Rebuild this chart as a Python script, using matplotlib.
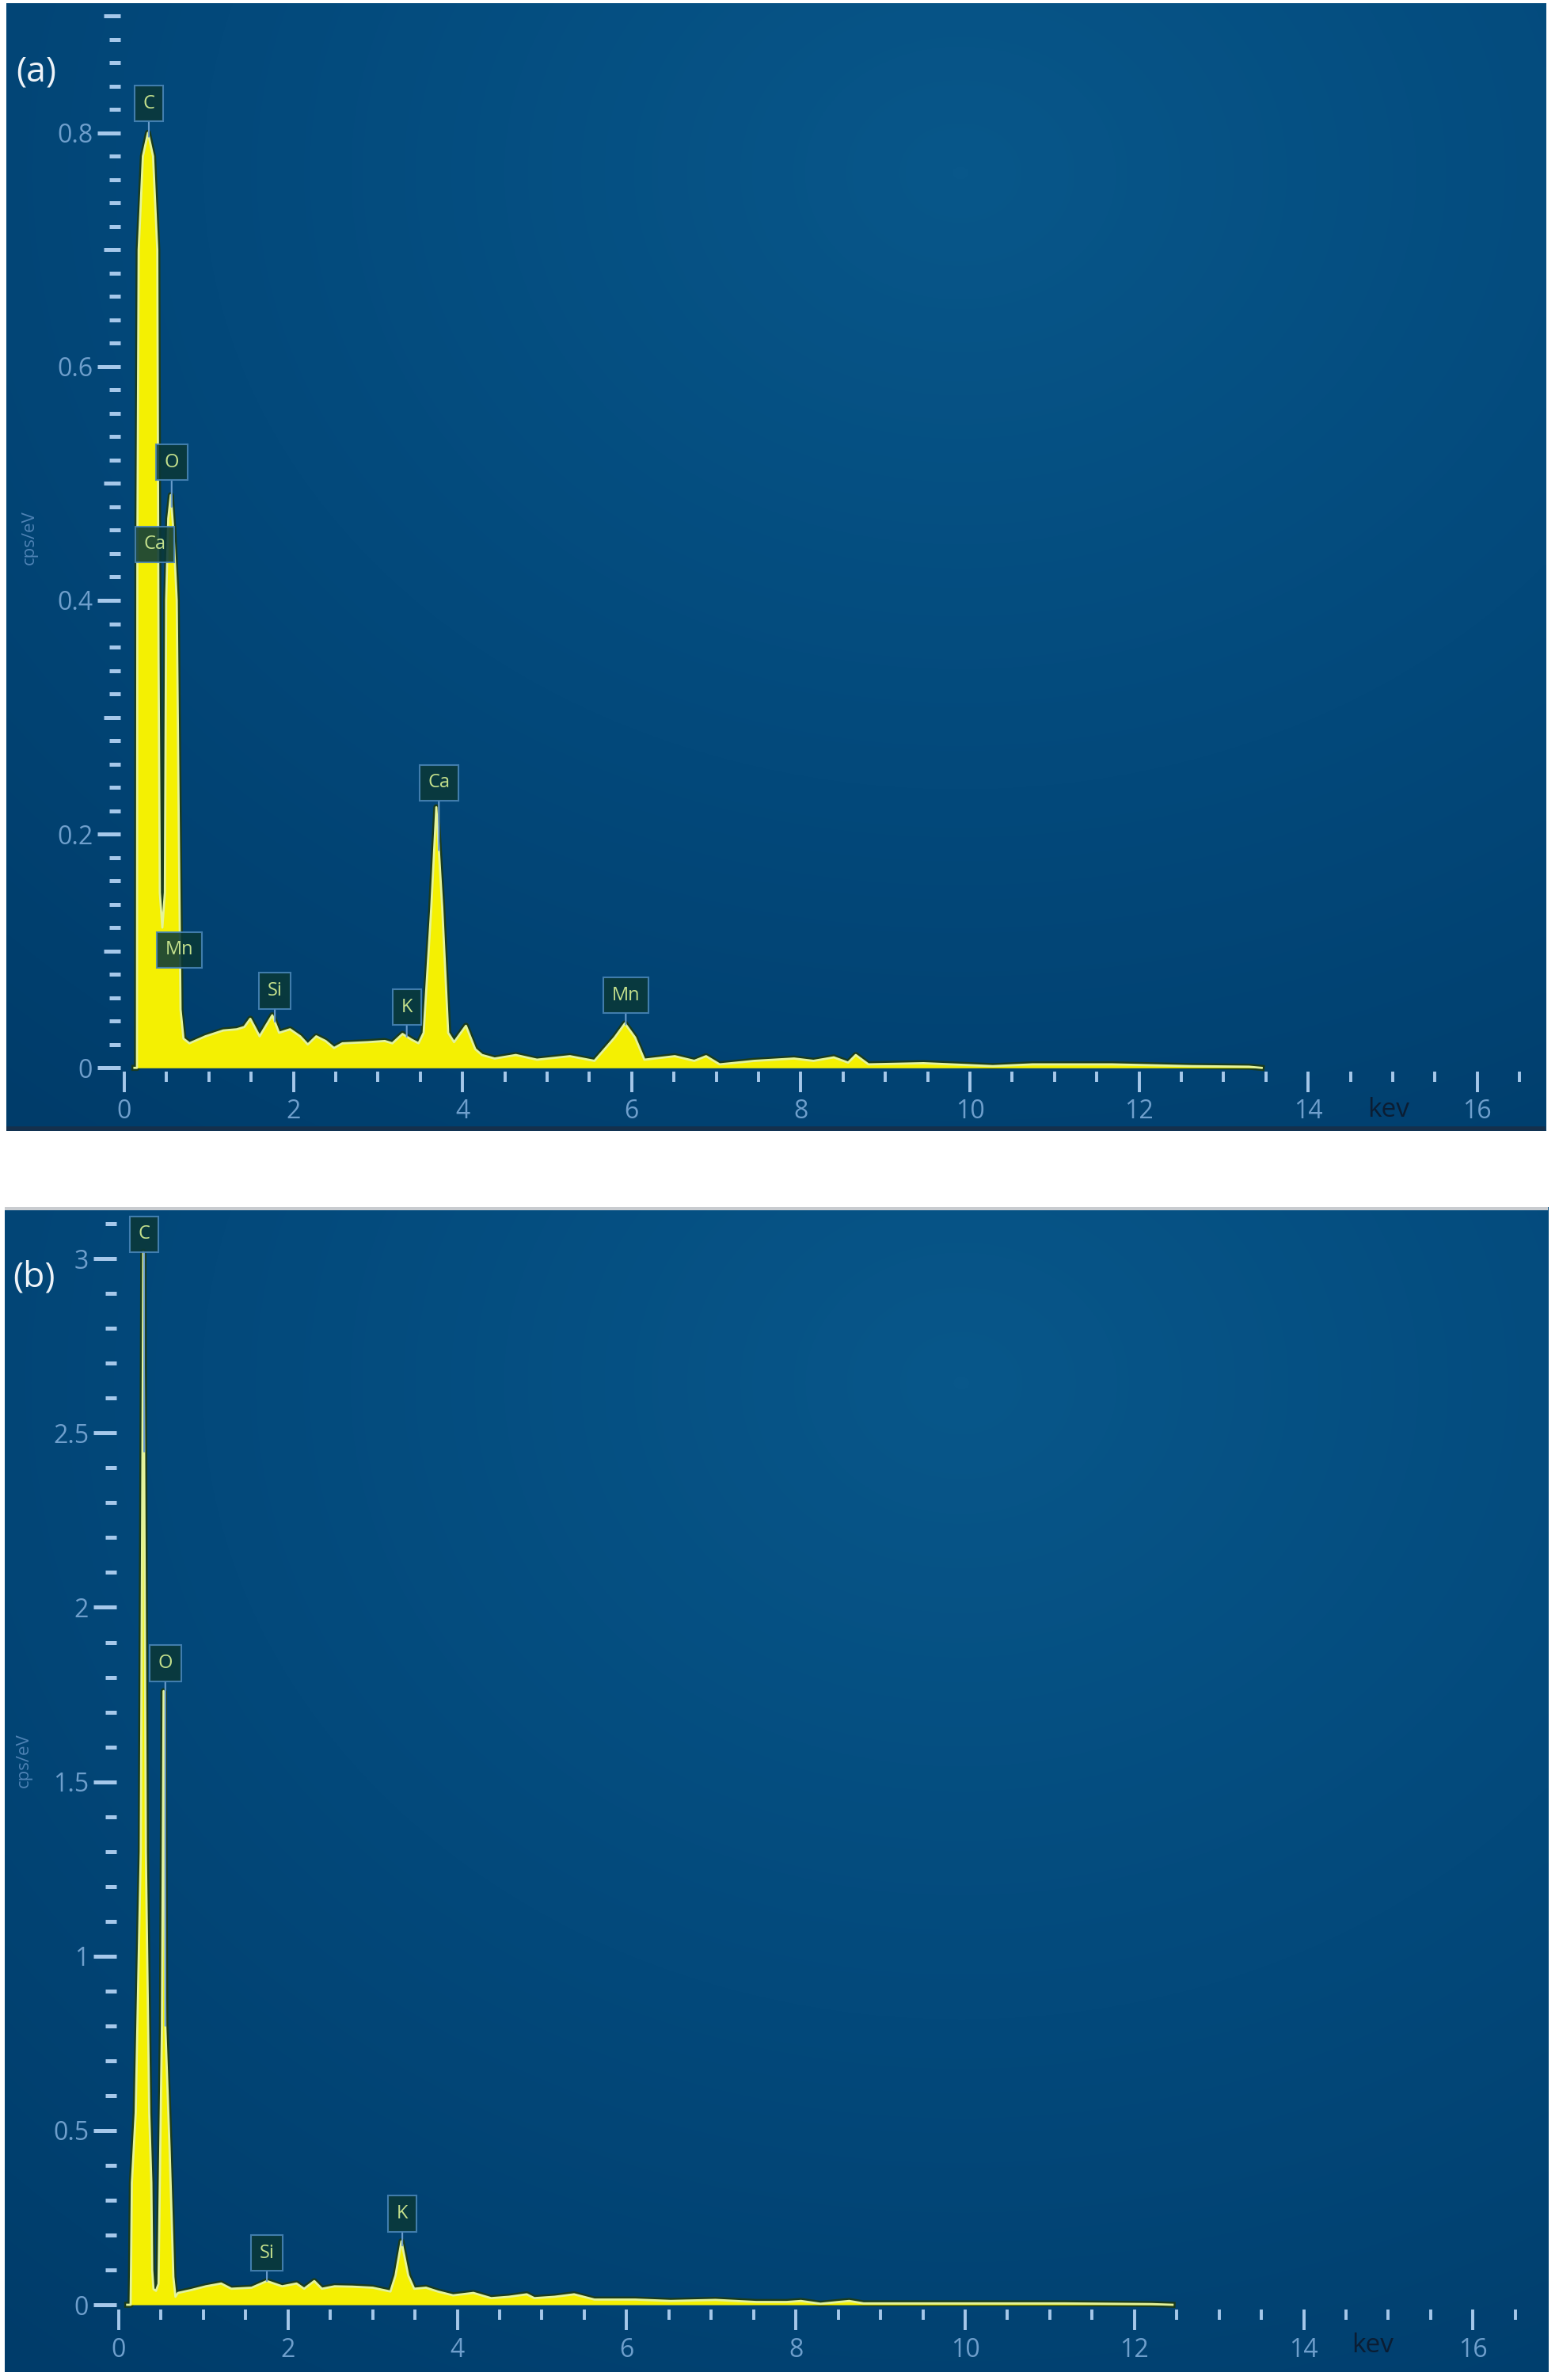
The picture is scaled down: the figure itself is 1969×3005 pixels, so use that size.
import numpy as np
import matplotlib.pyplot as plt
from matplotlib.colors import LinearSegmentedColormap
from matplotlib.lines import Line2D
from matplotlib.ticker import FixedLocator

plt.rcParams['font.family'] = ['Open Sans', 'DejaVu Sans']

#### (a) spectrum, keV vs cps/eV
energy_a = [0.12, 0.15, 0.155, 0.17, 0.22, 0.28, 0.34, 0.39, 0.405, 0.42, 0.45, 0.48, 0.495, 0.52,
            0.55, 0.58, 0.62, 0.645, 0.665, 0.70, 0.77, 0.96, 1.17, 1.33, 1.42, 1.49, 1.60, 1.75,
            1.83, 1.96, 2.08, 2.17, 2.27, 2.38, 2.48, 2.58, 2.88, 3.08, 3.17, 3.29, 3.40, 3.48,
            3.54, 3.63, 3.69, 3.76, 3.83, 3.90, 4.04, 4.15, 4.23, 4.38, 4.63, 4.88, 5.27, 5.56,
            5.80, 5.92, 6.04, 6.15, 6.51, 6.74, 6.88, 7.04, 7.45, 7.92, 8.15, 8.39, 8.56, 8.65,
            8.80, 9.45, 10.27, 10.74, 11.68, 12.62, 13.30, 13.45]
counts_a = [0.0, 0.0, 0.45, 0.70, 0.78, 0.80, 0.78, 0.70, 0.35, 0.15, 0.12, 0.15, 0.40, 0.47,
            0.49, 0.46, 0.40, 0.20, 0.05, 0.025, 0.021, 0.027, 0.032, 0.033, 0.035, 0.042, 0.027, 0.045,
            0.030, 0.033, 0.027, 0.020, 0.027, 0.023, 0.017, 0.021, 0.022, 0.023, 0.021, 0.029, 0.024, 0.021,
            0.030, 0.137, 0.223, 0.137, 0.030, 0.022, 0.036, 0.016, 0.011, 0.008, 0.011, 0.007, 0.010, 0.006,
            0.026, 0.038, 0.026, 0.007, 0.010, 0.006, 0.010, 0.003, 0.006, 0.008, 0.006, 0.009, 0.0045, 0.011,
            0.003, 0.004, 0.0015, 0.003, 0.003, 0.0015, 0.001, 0.0]
names_a = ['C', 'O', 'Ca', 'Mn', 'Si', 'K', 'Ca', 'Mn']
kev_a = [0.29, 0.56, 0.36, 0.65, 1.78, 3.34, 3.72, 5.93]
tag_a = [0.825, 0.518, 0.448, 0.101, 0.066, 0.052, 0.244, 0.062]
yticks_a = [0, 0.2, 0.4, 0.6, 0.8]
ylabels_a = ['0', '0.2', '0.4', '0.6', '0.8']

#### (b) spectrum
energy_b = [0.10, 0.14, 0.145, 0.155, 0.20, 0.26, 0.29, 0.32, 0.36, 0.385, 0.395, 0.41, 0.44, 0.47,
            0.485, 0.51, 0.53, 0.55, 0.60, 0.625, 0.645, 0.67, 0.70, 0.85, 1.03, 1.21, 1.33, 1.57,
            1.75, 1.93, 2.10, 2.19, 2.31, 2.40, 2.55, 2.76, 3.00, 3.21, 3.27, 3.34, 3.42, 3.49,
            3.63, 3.77, 3.95, 4.19, 4.40, 4.61, 4.82, 4.91, 5.15, 5.38, 5.62, 6.10, 6.52, 7.05,
            7.53, 7.89, 8.06, 8.29, 8.63, 8.80, 9.67, 11.17, 12.20, 12.45]
counts_b = [0.0, 0.0, 0.10, 0.35, 0.55, 1.30, 3.02, 1.30, 0.55, 0.35, 0.10, 0.045, 0.04, 0.06,
            0.35, 0.80, 1.76, 0.80, 0.45, 0.25, 0.08, 0.023, 0.034, 0.042, 0.053, 0.061, 0.046, 0.049,
            0.068, 0.053, 0.061, 0.046, 0.068, 0.046, 0.053, 0.052, 0.049, 0.038, 0.084, 0.182, 0.084, 0.046,
            0.049, 0.038, 0.027, 0.034, 0.019, 0.023, 0.030, 0.019, 0.023, 0.030, 0.015, 0.015, 0.011, 0.014,
            0.008, 0.008, 0.011, 0.003, 0.011, 0.004, 0.004, 0.004, 0.002, 0.0]
names_b = ['C', 'O', 'Si', 'K']
kev_b = [0.30, 0.55, 1.75, 3.35]
tag_b = [3.07, 1.84, 0.148, 0.261]
yticks_b = [0, 0.5, 1, 1.5, 2, 2.5, 3]
ylabels_b = ['0', '0.5', '1', '1.5', '2', '2.5', '3']

xticks = [0, 2, 4, 6, 8, 10, 12, 14, 16]
xminor = np.arange(0, 16.6, 0.5)

bg = LinearSegmentedColormap.from_list('eds', ['#08578a', '#03497b', '#003c6a'])
tick_c = '#a6c8ea'
label_c = '#6f9fcc'


def backdrop(ax):
    yy, xx = np.mgrid[0:1:300j, 0:1:300j]
    r = np.hypot(xx - 0.62, (yy - 0.85) * 0.9)
    ax.imshow(r, extent=(0, 1, 0, 1), transform=ax.transAxes, cmap=bg,
              aspect='auto', origin='lower', zorder=0, interpolation='bilinear')


def draw(ax, energy, counts, names, kev, tag, xlim, ylim, xbase, ybase,
         yticks, ylabels, ystep, yend):
    backdrop(ax)
    ax.plot(energy, counts, color='#1a3b1c', lw=5.5, zorder=2, solid_joinstyle='round')
    ax.fill_between(energy, counts, 0, color='#f4f002', lw=0, zorder=3)
    ax.plot(energy, counts, color='#e4f39c', lw=2.0, zorder=4)

    for nm, e, t in zip(names, kev, tag):
        tip = np.interp(e, energy, counts)
        box = dict(boxstyle='square,pad=0.45', fc='#0a3838', ec='#4a86b8', lw=1.5, alpha=0.88)
        if tip < t:
            ax.annotate(nm, xy=(e, tip), xytext=(e, t), ha='center', va='center',
                        fontsize=17, color='#c4e08c', bbox=box, zorder=6,
                        arrowprops=dict(arrowstyle='-', color='#6a9ccc', lw=1.5,
                                        shrinkA=0, shrinkB=0))
        else:
            ax.text(e, t, nm, ha='center', va='center', fontsize=17,
                    color='#c4e08c', bbox=box, zorder=6)

    ax.set_xlim(*xlim)
    ax.set_ylim(*ylim)
    for s in ax.spines.values():
        s.set_color('none')
    ax.spines['bottom'].set_position(('data', ybase))
    ax.spines['left'].set_position(('data', xbase))

    ax.set_xticks(xticks)
    ax.set_xticklabels([str(v) for v in xticks])
    ax.xaxis.set_minor_locator(FixedLocator(xminor))
    ax.set_yticks(yticks)
    ax.set_yticklabels(ylabels)
    ax.yaxis.set_minor_locator(FixedLocator(np.arange(0, yend + 1e-9, ystep)))

    ax.tick_params(axis='x', which='major', direction='out', length=19, width=2.8,
                   color=tick_c, labelcolor=label_c, labelsize=23, pad=6)
    ax.tick_params(axis='x', which='minor', direction='out', length=9, width=2.8, color=tick_c)
    ax.tick_params(axis='y', which='major', direction='out', length=21, width=3.6,
                   color=tick_c, labelcolor=label_c, labelsize=23, pad=4)
    ax.tick_params(axis='y', which='minor', direction='out', length=10, width=3.6, color=tick_c)


fig = plt.figure(figsize=(19.69, 30.05), dpi=100, facecolor='white')

ax1 = fig.add_axes([8 / 1969, 0.5248, 1944 / 1969, 0.4739])
draw(ax1, energy_a, counts_a, names_a, kev_a, tag_a, (-1.395, 16.807), (-0.054, 0.911),
     -0.047, -0.003, yticks_a, ylabels_a, 0.02, 0.9)
# tenths a bit longer than the rest of the minor marks
for t, loc in zip(ax1.yaxis.get_minor_ticks(), ax1.yaxis.get_minorticklocs()):
    if abs(loc * 10 - round(loc * 10)) < 1e-6:
        t.tick1line.set_markersize(15)
ax1.text(14.95, -0.036, 'kev', color='#0b1d33', fontsize=24, ha='center', va='center')
ax1.text(0.0149, 0.526, 'cps/eV', rotation=90, color='#4f83b5', fontsize=16,
         ha='center', va='center', transform=ax1.transAxes)
ax1.text(0.0195, 0.939, '(a)', color='#eef3f8', fontsize=32, ha='center', va='center',
         transform=ax1.transAxes)
ax1.add_line(Line2D([0, 1], [0.002, 0.002], transform=ax1.transAxes, color='#15304c', lw=4))

ax2 = fig.add_axes([6 / 1969, 0.00333, 1949 / 1969, 0.4895])
draw(ax2, energy_b, counts_b, names_b, kev_b, tag_b, (-1.347, 16.885), (-0.193, 3.148),
     -0.03, -0.014, yticks_b, ylabels_b, 0.1, 3.1)
ax2.text(14.81, -0.118, 'kev', color='#0b1d33', fontsize=24, ha='center', va='center')
ax2.text(0.0123, 0.525, 'cps/eV', rotation=90, color='#4f83b5', fontsize=16,
         ha='center', va='center', transform=ax2.transAxes)
ax2.text(0.019, 0.9395, '(b)', color='#eef3f8', fontsize=32, ha='center', va='center',
         transform=ax2.transAxes)
ax2.add_line(Line2D([0, 1], [0.999, 0.999], transform=ax2.transAxes, color='#c9ccd0', lw=3))

plt.savefig('out.png', dpi=100, facecolor='white')
